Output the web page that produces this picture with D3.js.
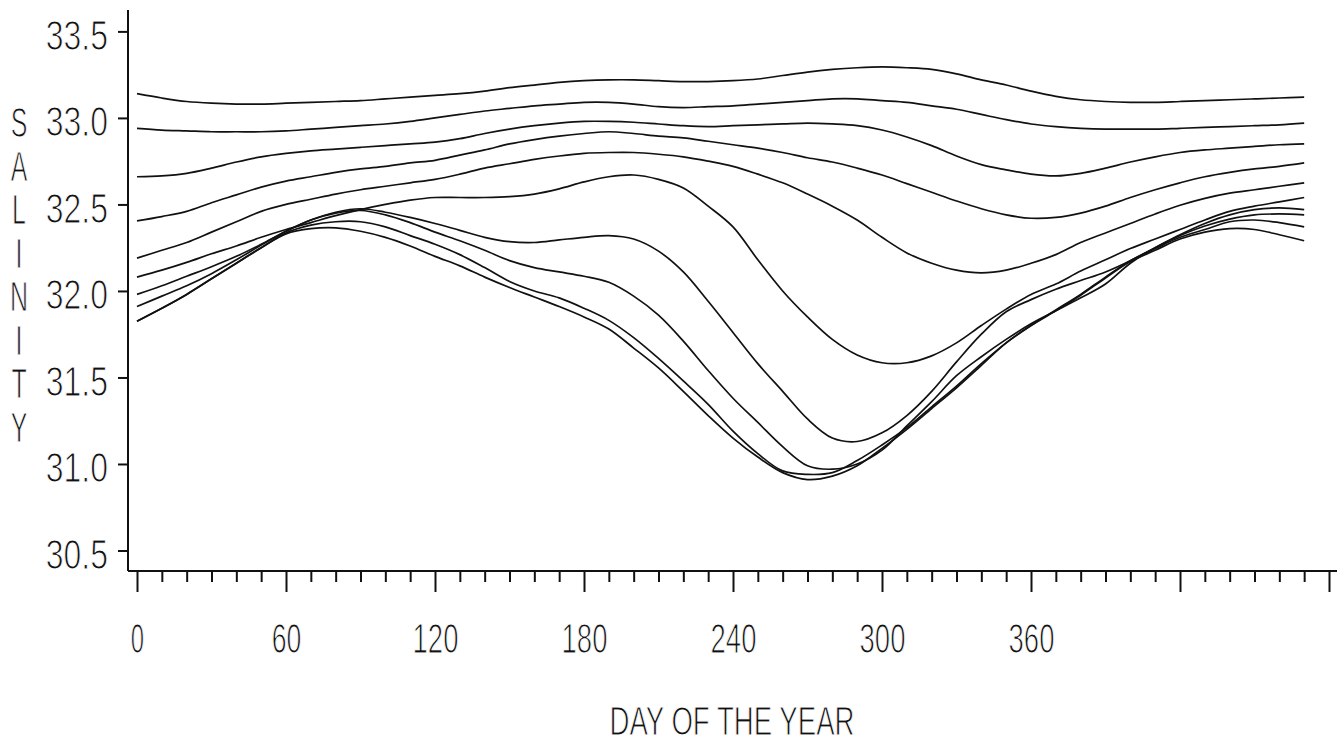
<!DOCTYPE html>
<html>
<head>
<meta charset="utf-8">
<script src="https://cdn.jsdelivr.net/npm/d3@7"></script>
<style>
  html, body { margin: 0; padding: 0; background: #fff; }
  svg { display: block; }
  text { font-family: "Liberation Sans Narrow", "Arial Narrow", "Liberation Sans", sans-serif; fill: #111; stroke: #fff; stroke-width: 1.1px; }
</style>
</head>
<body>
<svg id="chart" width="1339" height="745"></svg>
<script>
// ---- data ----
const days = [0,10,20,30,40,50,60,70,80,90,100,110,120,130,140,150,160,170,180,190,200,210,220,230,240,250,260,270,280,290,300,310,320,330,340,350,360,370,380,390,400,410,420,430,440,450,460,470];

const seriesA = [33.14,33.115,33.095,33.085,33.08,33.08,33.085,33.09,33.095,33.10,33.11,33.12,33.13,33.14,33.155,33.175,33.19,33.205,33.215,33.22,33.22,33.215,33.21,33.21,33.215,33.225,33.245,33.265,33.28,33.29,33.295,33.29,33.28,33.255,33.22,33.19,33.155,33.125,33.105,33.095,33.09,33.09,33.095,33.10,33.105,33.11,33.115,33.12];
const seriesB = [32.94,32.93,32.925,32.92,32.92,32.92,32.925,32.935,32.945,32.955,32.965,32.98,33.00,33.02,33.04,33.055,33.07,33.08,33.09,33.09,33.08,33.065,33.06,33.065,33.07,33.08,33.09,33.10,33.11,33.11,33.10,33.09,33.07,33.05,33.02,32.99,32.965,32.95,32.94,32.935,32.935,32.935,32.94,32.945,32.95,32.955,32.96,32.97];
const seriesC = [32.66,32.665,32.68,32.71,32.745,32.775,32.795,32.81,32.82,32.83,32.84,32.85,32.86,32.88,32.91,32.935,32.955,32.97,32.98,32.98,32.975,32.965,32.955,32.95,32.955,32.96,32.965,32.97,32.965,32.955,32.93,32.89,32.84,32.78,32.73,32.70,32.675,32.665,32.68,32.71,32.745,32.775,32.80,32.815,32.825,32.835,32.845,32.85];
const seriesD = [32.405,32.43,32.46,32.51,32.555,32.60,32.635,32.66,32.685,32.705,32.72,32.74,32.755,32.785,32.815,32.85,32.875,32.895,32.91,32.92,32.91,32.895,32.885,32.865,32.845,32.825,32.80,32.77,32.745,32.71,32.67,32.62,32.57,32.52,32.475,32.44,32.42,32.425,32.45,32.49,32.54,32.585,32.625,32.66,32.685,32.705,32.72,32.74];
const seriesE = [32.19,32.235,32.28,32.34,32.40,32.46,32.50,32.53,32.56,32.585,32.605,32.625,32.645,32.675,32.71,32.735,32.76,32.78,32.795,32.80,32.80,32.79,32.775,32.75,32.72,32.675,32.625,32.56,32.49,32.41,32.31,32.22,32.16,32.12,32.105,32.12,32.16,32.21,32.28,32.335,32.39,32.445,32.495,32.535,32.565,32.585,32.605,32.625];
const seriesF = [32.08,32.12,32.165,32.215,32.26,32.31,32.355,32.395,32.435,32.47,32.50,32.525,32.54,32.54,32.54,32.545,32.56,32.59,32.63,32.66,32.67,32.645,32.595,32.49,32.37,32.18,32.00,31.85,31.72,31.63,31.585,31.585,31.625,31.70,31.80,31.895,31.98,32.04,32.115,32.18,32.245,32.30,32.355,32.41,32.46,32.49,32.515,32.54];
const seriesG = [31.98,32.03,32.085,32.14,32.20,32.27,32.345,32.41,32.455,32.475,32.455,32.425,32.39,32.35,32.31,32.285,32.28,32.295,32.31,32.32,32.30,32.23,32.11,31.94,31.76,31.58,31.42,31.26,31.15,31.13,31.18,31.28,31.42,31.59,31.75,31.88,31.95,32.01,32.06,32.11,32.175,32.25,32.325,32.39,32.44,32.47,32.48,32.47];
const seriesH = [31.91,31.97,32.03,32.10,32.18,32.265,32.345,32.41,32.45,32.465,32.44,32.395,32.34,32.29,32.235,32.175,32.135,32.11,32.085,32.05,31.97,31.86,31.71,31.54,31.38,31.24,31.10,30.99,30.97,31.00,31.08,31.22,31.36,31.51,31.62,31.72,31.81,31.885,31.96,32.04,32.16,32.25,32.32,32.375,32.415,32.44,32.445,32.44];
const seriesI = [31.825,31.90,31.98,32.07,32.16,32.25,32.335,32.38,32.40,32.40,32.37,32.32,32.27,32.21,32.135,32.055,32.00,31.96,31.90,31.83,31.73,31.61,31.48,31.345,31.19,31.06,30.96,30.94,30.95,31.02,31.11,31.21,31.33,31.45,31.58,31.70,31.80,31.89,31.98,32.08,32.175,32.245,32.31,32.355,32.40,32.41,32.395,32.37];
const seriesJ = [31.825,31.90,31.98,32.07,32.16,32.25,32.33,32.36,32.365,32.345,32.31,32.26,32.20,32.145,32.08,32.02,31.965,31.91,31.85,31.78,31.67,31.555,31.42,31.28,31.15,31.04,30.95,30.91,30.93,30.99,31.09,31.20,31.32,31.44,31.57,31.70,31.80,31.885,31.975,32.075,32.17,32.235,32.30,32.34,32.36,32.355,32.325,32.29];

const yTicks = [30.5, 31.0, 31.5, 32.0, 32.5, 33.0, 33.5];
const xTickValues = [0,10,20,30,40,50,60,70,80,90,100,110,120,130,140,150,160,170,180,190,200,210,220,230,240,250,260,270,280,290,300,310,320,330,340,350,360,370,380,390,400,410,420,430,440,450,460,470,480];
const xLabelled = [0, 60, 120, 180, 240, 300, 360];
const xMajor = [0, 60, 120, 180, 240, 300, 360, 420, 480];
const yTitle = "SALINITY";
const xTitle = "DAY OF THE YEAR";

const allSeries = [seriesA, seriesB, seriesC, seriesD, seriesE, seriesF, seriesG, seriesH, seriesI, seriesJ];

// ---- drawing ----
const svg = d3.select("#chart");
svg.append("rect").attr("width", 1339).attr("height", 745).attr("fill", "#fff");

const x = d3.scaleLinear().domain([0, 480]).range([137, 1329]);
const y = d3.scaleLinear().domain([30.5, 33.5]).range([550.5, 31.4]);

const axisX0 = 128;   // y-axis line position
const axisY0 = 571;   // x-axis line position
const charW = 16.3;   // plotter font cell width
const fs = 43;

function fitLen(s) { return charW * s.length - 3; }

// axis lines
svg.append("line").attr("x1", axisX0).attr("x2", axisX0).attr("y1", 10).attr("y2", axisY0)
  .attr("stroke", "#111").attr("stroke-width", 2);
svg.append("line").attr("x1", axisX0).attr("x2", 1337).attr("y1", axisY0).attr("y2", axisY0)
  .attr("stroke", "#111").attr("stroke-width", 2);

// y axis ticks and labels
const yAxis = d3.axisLeft(y).tickValues(yTicks).tickSize(10).tickFormat(d3.format(".1f"));
const gy = svg.append("g").attr("transform", `translate(${axisX0},0)`).call(yAxis);
gy.select(".domain").remove();
gy.selectAll(".tick line").attr("stroke", "#111").attr("stroke-width", 2);
gy.selectAll(".tick text")
  .attr("x", -20).attr("dy", null).attr("y", 18)
  .attr("font-size", fs)
  .attr("font-family", null)
  .attr("text-anchor", "end")
  .attr("fill", "#111")
  .each(function() {
    const t = d3.select(this);
    t.attr("textLength", fitLen(t.text())).attr("lengthAdjust", "spacingAndGlyphs");
  });

// x axis ticks and labels
const xAxis = d3.axisBottom(x).tickValues(xTickValues).tickSize(11)
  .tickFormat(d => xLabelled.includes(d) ? String(d) : "");
const gx = svg.append("g").attr("transform", `translate(0,${axisY0})`).call(xAxis);
gx.select(".domain").remove();
gx.selectAll(".tick line")
  .attr("stroke", "#111").attr("stroke-width", 2)
  .attr("y2", d => xMajor.includes(d) ? 21 : 11);
gx.selectAll(".tick text")
  .attr("y", 82).attr("dy", null)
  .attr("font-size", fs)
  .attr("font-family", null)
  .attr("fill", "#111")
  .attr("text-anchor", "middle")
  .each(function() {
    const t = d3.select(this);
    if (t.text().length) t.attr("textLength", fitLen(t.text())).attr("lengthAdjust", "spacingAndGlyphs");
  });

// y title: stacked letters
svg.append("g").selectAll("text")
  .data(yTitle.split(""))
  .join("text")
  .attr("transform", (d, i) => `translate(19,${137 + i * 43.5}) scale(0.58,1)`)
  .attr("text-anchor", "middle")
  .attr("font-size", fs)
  .text(d => d);

// x title
svg.append("text")
  .attr("x", 732).attr("y", 735)
  .attr("text-anchor", "middle")
  .attr("font-size", 41)
  .attr("textLength", 245)
  .attr("lengthAdjust", "spacingAndGlyphs")
  .text(xTitle);

// curves
const line = d3.line()
  .x((d, i) => x(days[i]))
  .y(d => y(d))
  .curve(d3.curveCatmullRom.alpha(0.5));

svg.append("g").selectAll("path")
  .data(allSeries)
  .join("path")
  .attr("d", line)
  .attr("fill", "none")
  .attr("stroke", "#111")
  .attr("stroke-width", 1.7)
  .attr("stroke-linejoin", "round");
</script>
</body>
</html>
